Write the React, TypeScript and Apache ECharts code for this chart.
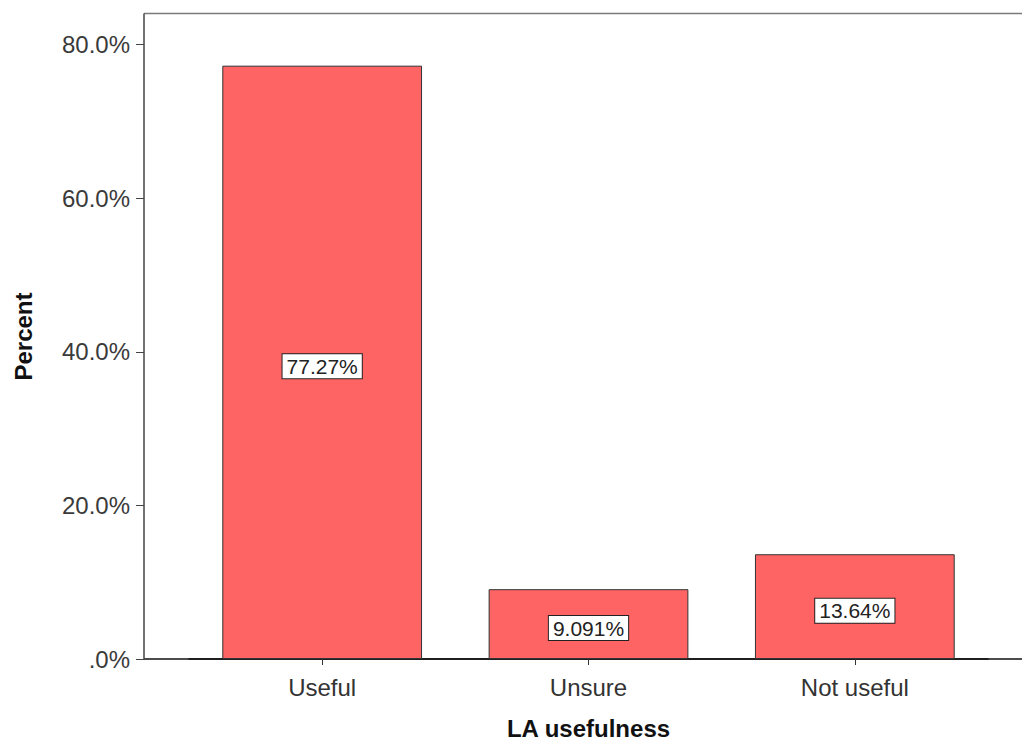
import React, { useEffect, useRef } from "react";
import * as echarts from "echarts";

const categories = ["Useful", "Unsure", "Not useful"];
const percents = [77.27, 9.091, 13.64];
const percentLabels = ["77.27%", "9.091%", "13.64%"];
const yTicks = [0, 20, 40, 60, 80];

export default function App() {
  const ref = useRef<HTMLDivElement>(null);
  useEffect(() => {
    if (!ref.current) return;
    const chart = echarts.init(ref.current, null, { renderer: "svg" });
    const font = "'Liberation Sans', Arial, sans-serif";
    const gridTop = 14;
    const gridHeight = 645;
    const axisY = gridTop + gridHeight;
    chart.setOption({
      animation: false,
      backgroundColor: "#ffffff",
      grid: {
        left: 189,
        width: 799,
        top: gridTop,
        height: gridHeight,
        containLabel: false,
        outerBoundsMode: "none",
      },
      xAxis: {
        type: "category",
        data: categories,
        name: "LA usefulness",
        nameLocation: "middle",
        nameGap: 57,
        nameTextStyle: { fontFamily: font, fontSize: 24, fontWeight: "bold", color: "#111" },
        axisLine: { show: true, lineStyle: { color: "#111", width: 1.5 } },
        axisTick: { show: true, alignWithLabel: true, length: 6, lineStyle: { color: "#333" } },
        axisLabel: { fontFamily: font, fontSize: 24, color: "#333", margin: 16 },
      },
      yAxis: {
        type: "value",
        min: 0,
        max: 84,
        interval: 20,
        offset: 45,
        name: "Percent",
        nameLocation: "middle",
        nameRotate: 90,
        nameGap: 109,
        nameTextStyle: { fontFamily: font, fontSize: 24, fontWeight: "bold", color: "#111" },
        splitLine: { show: false },
        axisLine: { show: true, lineStyle: { color: "#444", width: 1.5 } },
        axisTick: { show: true, length: 8, lineStyle: { color: "#444" } },
        axisLabel: {
          fontFamily: font,
          fontSize: 24,
          color: "#3a3a3a",
          margin: 14,
          showMaxLabel: false,
          formatter: (v: number) => (yTicks.includes(v) ? (v === 0 ? ".0%" : v.toFixed(1) + "%") : ""),
        },
      },
      series: [
        {
          type: "bar",
          data: percents,
          barWidth: "75%",
          itemStyle: { color: "#FF6464", borderColor: "#333", borderWidth: 1 },
          label: {
            show: true,
            position: "inside",
            offset: [0, 4],
            formatter: (p: any) => percentLabels[p.dataIndex],
            fontFamily: font,
            fontSize: 21,
            color: "#222",
            backgroundColor: "#ffffff",
            borderColor: "#222",
            borderWidth: 1,
            padding: [2, 4, 1, 4],
          },
        },
      ],
      graphic: [
        {
          type: "line",
          shape: { x1: 144, y1: 13.5, x2: 1022, y2: 13.5 },
          style: { stroke: "#7a7a7a", lineWidth: 1.5 },
          silent: true,
        },
        {
          type: "line",
          shape: { x1: 144, y1: axisY, x2: 1022, y2: axisY },
          style: { stroke: "#111", lineWidth: 1.5 },
          silent: true,
        },
      ],
    });
    return () => chart.dispose();
  }, []);
  return (
    <div
      ref={ref}
      style={{ width: 1022, height: 740, position: "absolute", left: 0, top: 0 }}
    />
  );
}
